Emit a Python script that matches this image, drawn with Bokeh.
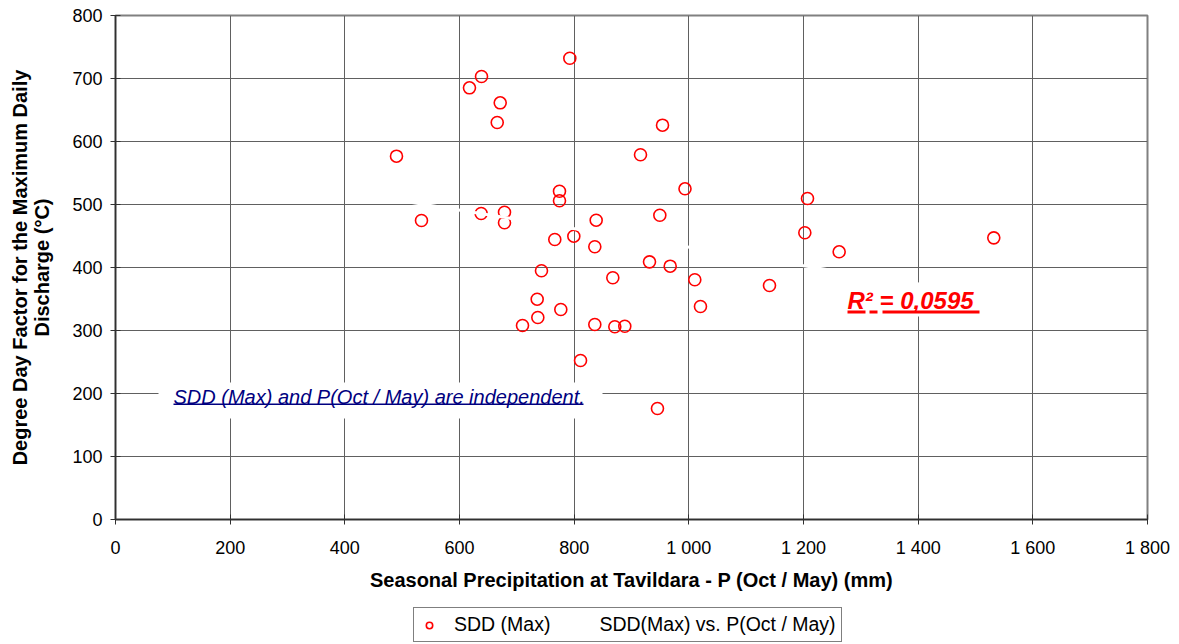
from bokeh.plotting import figure
from bokeh.layouts import column
from bokeh.models import Range1d, FixedTicker, Label, Legend, LegendItem, BoxAnnotation
from bokeh.embed import file_html
from bokeh.resources import INLINE

# ---- data ----
precip = [490.1, 533.7, 617.4, 638.4, 637.8, 671.0, 665.8, 678.5, 678.5, 792.4,
          774.4, 774.4, 766.2, 799.4, 743.0, 735.5, 736.6, 709.9, 776.7, 811.1,
          838.4, 836.0, 836.0, 867.4, 870.9, 888.3, 915.7, 954.1, 949.4, 993.3,
          931.4, 967.5, 945.3, 1010.4, 1020.3, 1140.7, 1207.0, 1202.3, 1262.2, 1531.9]
sdd = [576.7, 474.6, 685.2, 703.2, 485.7, 661.4, 630.2, 487.8, 471.0, 732.2,
       521.1, 505.9, 444.4, 449.7, 394.8, 349.7, 320.6, 307.9, 333.3, 252.4,
       475.1, 432.9, 309.5, 383.7, 305.9, 306.8, 578.9, 625.9, 483.0, 524.9,
       409.0, 402.1, 176.2, 380.5, 338.1, 371.4, 509.5, 455.1, 424.9, 447.1]
trend_x = [490.1, 1531.9]
trend_y = [507.3, 354.1]
x_ticks = [0, 200, 400, 600, 800, 1000, 1200, 1400, 1600, 1800]
x_tick_labels = ["0", "200", "400", "600", "800", "1 000", "1 200", "1 400", "1 600", "1 800"]
y_ticks = [0, 100, 200, 300, 400, 500, 600, 700, 800]

FONT = "Liberation Sans"

# helpers for placing decorations (pixel -> data)
def dx(px):
    return (px - 115) / (1032 / 1800)

def dy(py):
    return (519 - py) / (504 / 800)

p = figure(width=1179, height=600, x_range=Range1d(0, 1800), y_range=Range1d(0, 800),
           output_backend="svg", toolbar_location=None,
           min_border_left=115, min_border_right=32, min_border_top=15, min_border_bottom=81)
p.background_fill_color = "white"
p.border_fill_color = "white"
p.outline_line_color = "#808080"
p.outline_line_width = 2

for ax, ticks in ((p.xaxis, x_ticks), (p.yaxis, y_ticks)):
    ax.ticker = FixedTicker(ticks=ticks)
    ax.major_label_text_font = FONT
    ax.major_label_text_font_size = "18px"
    ax.major_label_text_color = "black"
    ax.axis_label_text_font = FONT
    ax.axis_label_text_font_size = "20px"
    ax.axis_label_text_font_style = "bold"
    ax.axis_label_text_color = "black"
    ax.axis_line_color = "#303030"
    ax.axis_line_width = 1.5
    ax.major_tick_line_color = "#303030"
    ax.major_tick_in = 5
    ax.major_tick_out = 5
    ax.minor_tick_line_color = None

p.xaxis.major_label_overrides = {t: l for t, l in zip(x_ticks, x_tick_labels)}
p.xaxis.axis_label = "Seasonal Precipitation at Tavildara - P (Oct / May) (mm)"
p.xaxis.major_label_standoff = 13
p.xaxis.axis_label_standoff = 8
p.yaxis.axis_label = "Degree Day Factor for the Maximum Daily\nDischarge (°C)"
p.yaxis.axis_label_text_line_height = 1.0
p.yaxis.major_label_standoff = 8
p.yaxis.axis_label_standoff = 16

p.xgrid.ticker = FixedTicker(ticks=x_ticks)
p.ygrid.ticker = FixedTicker(ticks=y_ticks)
for g in (p.xgrid, p.ygrid):
    g.grid_line_color = "#606060"
    g.grid_line_width = 1

sc = p.scatter(precip, sdd, marker="circle", size=12, line_color="red",
               line_width=1.6, fill_color=None)
ln = p.line(trend_x, trend_y, line_color="white", line_width=3)

# text annotation with white background
p.add_layout(BoxAnnotation(left=dx(158), right=dx(602), top=dy(382), bottom=dy(418),
                           fill_color="white", fill_alpha=1, line_color=None))
p.add_layout(Label(x=dx(173), y=dy(396), text="SDD (Max) and P(Oct / May) are independent.",
                   text_font=FONT, text_font_size="20px", text_font_style="italic",
                   text_color="#000080", text_baseline="middle"))
p.add_layout(BoxAnnotation(left=dx(173), right=dx(583), top=dy(403), bottom=dy(404.5),
                           fill_color="#000080", fill_alpha=1, line_color=None))

# R^2 annotation
p.add_layout(BoxAnnotation(left=dx(840), right=dx(988), top=dy(282), bottom=dy(316),
                           fill_color="white", fill_alpha=1, line_color=None))
p.add_layout(Label(x=dx(847), y=dy(300), text="R² = 0,0595",
                   text_font=FONT, text_font_size="24px", text_font_style="bold italic",
                   text_color="red", text_baseline="middle"))
for a, b in ((847, 865), (869, 877), (882, 979)):
    p.add_layout(BoxAnnotation(left=dx(a), right=dx(b), top=dy(310), bottom=dy(313),
                               fill_color="red", fill_alpha=1, line_color=None))

# ---- legend strip below the chart ----
lg = figure(width=1179, height=44, x_range=Range1d(0, 1), y_range=Range1d(0, 1),
            output_backend="svg", toolbar_location=None, min_border=0)
lg.axis.visible = False
lg.grid.visible = False
lg.outline_line_color = None
lg.background_fill_color = "white"
lg.border_fill_color = "white"
# proxy renderers (data lies outside this strip's ranges, so only the legend glyphs show)
lr1 = lg.scatter(x=precip[:1], y=sdd[:1], marker="circle", size=12, line_color="red",
                 line_width=1.6, fill_color=None)
lr2 = lg.line(x=trend_x, y=trend_y, line_color="white", line_width=3)
legend = Legend(items=[LegendItem(label="SDD (Max)", renderers=[lr1]),
                       LegendItem(label="SDD(Max) vs. P(Oct / May)", renderers=[lr2])],
                orientation="horizontal", location=(298, 2),
                border_line_color="black", border_line_width=1,
                label_text_font=FONT, label_text_font_size="19.5px", label_text_color="black",
                glyph_width=20, glyph_height=16, label_height=16, label_standoff=15, spacing=14,
                padding=5, margin=0, background_fill_color="white")
lg.add_layout(legend, "center")

layout = column(p, lg, spacing=0)
open("out.html", "w").write(file_html(layout, INLINE))
